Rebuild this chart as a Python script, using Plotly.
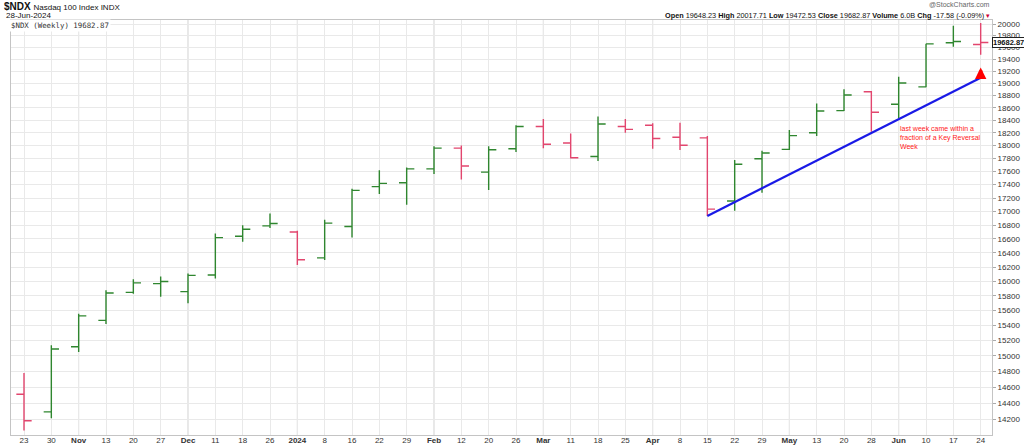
import math
import plotly.graph_objects as go

# ── weekly bars, $NDX, Oct 23 2023 .. Jun 24 2024 ────────────────────────────
WEEKS = ["23", "30", "Nov", "13", "20", "27", "Dec", "11", "18", "26", "2024", "8",
         "16", "22", "29", "Feb", "12", "20", "26", "Mar", "11", "18", "25", "Apr",
         "8", "15", "22", "29", "May", "13", "20", "28", "Jun", "10", "17", "24"]
MONTHS = ["Nov", "Dec", "2024", "Feb", "Mar", "Apr", "May", "Jun"]

OPEN = [14510, 14290, 15120, 15470, 15850, 15970, 15860, 16090, 16640, 16790, 16700, 16330,
        16780, 17370, 17430, 17640, 17960, 17590, 17950, 18300, 18040, 17830, 18300, 18320,
        18130, 18120, 17155, 17795, 17940, 18200, 18553, 18860, 18656, 18940, 19678, 19648.23]
HIGH = [14780, 15140, 15560, 15880, 16030, 16070, 16110, 16680, 16800, 16970, 16720, 16880,
        17340, 17620, 17660, 17990, 18000, 17990, 18320, 18420, 18190, 18460, 18420, 18350,
        18360, 18150, 17775, 17920, 18245, 18670, 18900, 18870, 19107, 19660, 19971, 20017.71]
LOW = [14060, 14210, 15050, 15420, 15830, 15790, 15700, 16040, 16560, 16760, 16230, 16300,
       16620, 17260, 17100, 17560, 17480, 17320, 17900, 17960, 17800, 17760, 18200, 17950,
       17930, 16935, 17010, 17280, 17930, 18150, 18548, 18218, 18431, 18933, 19610, 19472.53]
CLOSE = [14180, 15090, 15530, 15840, 15980, 16000, 16085, 16620, 16740, 16825, 16305, 16830,
         17315, 17420, 17640, 17960, 17685, 17935, 18300, 18020, 17810, 18340, 18255, 18110,
         18005, 17035, 17710, 17885, 18155, 18548, 18806, 18527, 19003, 19659, 19700, 19682.87]
PREV_CLOSE = 14540  # close of the week before the first bar

TREND_IDX = [25, 35]
TREND_VAL = [16935, 19090]
ARROW_IDX, ARROW_VAL = 35, 19260
NOTE_IDX, NOTE_VAL = 31.97, 18360
LAST = 19682.87

Y_TICKS = list(range(14200, 20001, 200))

GREEN = "#2f862f"
RED = "#e2466e"
GRID = "#e9e9e9"
MONTH_GRID = "#d0d0d0"
TXT = "#333333"
FONT = "Liberation Sans, Arial, sans-serif"

# plot box in pixels
W, H = 1024, 446
L, R, T, B = 11, 32, 20, 11


def py(pix):
    """pixel row -> paper y"""
    return (H - B - pix) / (H - T - B)


def px_(pix):
    """pixel column -> paper x"""
    return (pix - L) / (W - L - R)


x = list(range(len(WEEKS)))
prev = [PREV_CLOSE] + CLOSE[:-1]
up = [c >= p for c, p in zip(CLOSE, prev)]

fig = go.Figure()
for flag, col in [(True, GREEN), (False, RED)]:
    sel = [i for i in x if up[i] == flag]
    fig.add_trace(go.Ohlc(
        x=sel,
        open=[OPEN[i] for i in sel],
        high=[HIGH[i] for i in sel],
        low=[LOW[i] for i in sel],
        close=[CLOSE[i] for i in sel],
        increasing=dict(line=dict(color=col, width=1.4)),
        decreasing=dict(line=dict(color=col, width=1.4)),
        tickwidth=0.28,
        showlegend=False,
        hoverinfo="skip",
    ))

# trend line
fig.add_trace(go.Scatter(
    x=TREND_IDX, y=TREND_VAL, mode="lines",
    line=dict(color="#1a1ae6", width=2.2),
    showlegend=False, hoverinfo="skip",
))

# darker month separators
for i, lab in enumerate(WEEKS):
    if lab in MONTHS:
        fig.add_shape(type="line", xref="x", yref="paper", x0=i, x1=i, y0=0, y1=1,
                      line=dict(color=MONTH_GRID, width=1), layer="below")

ticktext = [f"<b>{w}</b>" if w in MONTHS else w for w in WEEKS]

annotations = [
    # header
    dict(x=px_(2), y=py(6), text="<b>$NDX</b> <span style='font-size:8px'>Nasdaq 100 Index INDX</span>",
         font=dict(size=10, family=FONT, color="#111")),
    dict(x=px_(4), y=py(15), text="28-Jun-2024", font=dict(size=8, family=FONT, color="#111")),
    dict(x=px_(9), y=py(25), text="$NDX (Weekly) 19682.87", bgcolor="white",
         font=dict(size=7.4, family="DejaVu Sans Mono, monospace", color=TXT)),
    dict(x=1.0, y=py(5), xanchor="right", text="@StockCharts.com",
         font=dict(size=7, family=FONT, color="#666")),
    dict(x=1.0, y=py(15), xanchor="right",
         text="<b>Open</b> 19648.23 <b>High</b> 20017.71 <b>Low</b> 19472.53 "
              "<b>Close</b> 19682.87 <b>Volume</b> 6.0B <b>Chg</b> -17.58 (-0.09%) "
              "<span style='color:#cc0033'>▾</span>",
         font=dict(size=7.3, family=FONT, color="#111")),
]
for a in annotations:
    a.setdefault("xanchor", "left")
    a.update(xref="paper", yref="paper", yanchor="middle", showarrow=False)

# last price tag on the axis
annotations.append(dict(
    xref="paper", yref="y", x=1.0, y=math.log10(LAST), xanchor="left", yanchor="middle",
    text="<b>19682.87</b>", showarrow=False, bgcolor="white", bordercolor="#222",
    borderwidth=1, borderpad=0, font=dict(size=7.5, family=FONT, color="#111"),
))
# red arrow + comment
annotations.append(dict(
    xref="x", yref="y", x=ARROW_IDX, y=math.log10(ARROW_VAL), ax=0, ay=11,
    showarrow=True, arrowhead=2, arrowsize=0.65, arrowwidth=3.5, arrowcolor="#ff0000", text="",
))
annotations.append(dict(
    xref="x", yref="y", x=NOTE_IDX, y=math.log10(NOTE_VAL), xanchor="left", yanchor="top",
    align="left", showarrow=False,
    text="last week came within a<br>fraction of a Key Reversal<br>Week",
    font=dict(size=7, family=FONT, color="#ff1a1a"),
))

x0 = -0.4756
x1 = 35.414
fig.update_layout(
    width=W, height=H,
    margin=dict(l=L, r=R, t=T, b=B),
    paper_bgcolor="white",
    plot_bgcolor="white",
    font=dict(family=FONT, size=8, color=TXT),
    showlegend=False,
    annotations=annotations,
    xaxis=dict(
        range=[x0, x1],
        tickvals=x, ticktext=ticktext,
        showgrid=True, gridcolor=GRID, gridwidth=1,
        showline=True, linecolor="#c4c4c4", mirror=True,
        ticks="", tickfont=dict(size=8, family=FONT, color=TXT),
        ticklabelstandoff=-3,
        rangeslider=dict(visible=False),
        zeroline=False, automargin=False,
    ),
    yaxis=dict(
        type="log",
        range=[math.log10(14006.5), math.log10(20069.4)],
        side="right",
        tickvals=Y_TICKS, ticktext=[str(v) for v in Y_TICKS],
        showgrid=True, gridcolor=GRID, gridwidth=1,
        showline=True, linecolor="#c4c4c4", mirror=True,
        ticks="outside", ticklen=3, tickcolor="#aaaaaa",
        tickfont=dict(size=8, family=FONT, color=TXT),
        zeroline=False, automargin=False,
    ),
)

# page body has a default 8px margin; drop it so the figure sits at 0,0
fig.write_html("out.html", config={"displayModeBar": False},
               post_script="document.body.style.margin='0';")
